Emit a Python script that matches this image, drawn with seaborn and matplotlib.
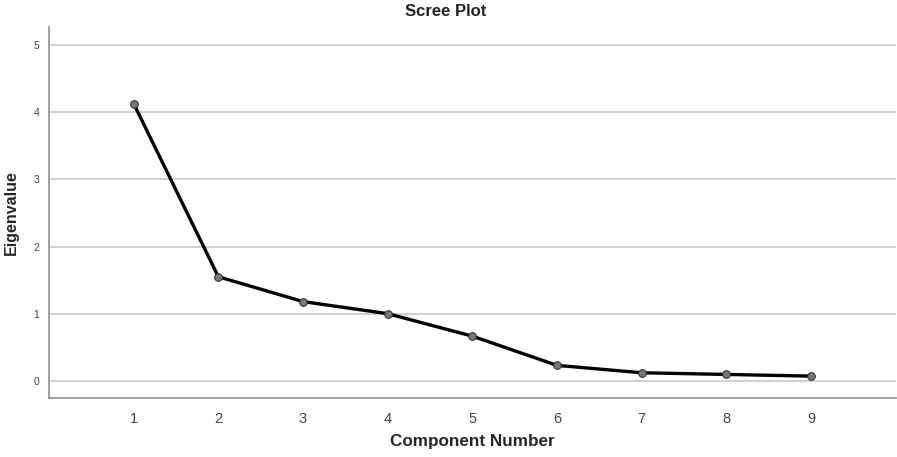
import numpy as np
import pandas as pd
import matplotlib
matplotlib.use("Agg")
import matplotlib.pyplot as plt
import seaborn as sns

components = [1, 2, 3, 4, 5, 6, 7, 8, 9]
eigenvalues = [4.13, 1.55, 1.18, 1.00, 0.665, 0.23, 0.12, 0.095, 0.07]
y_ticks = [0, 1, 2, 3, 4, 5]

df = pd.DataFrame({"Component Number": components, "Eigenvalue": eigenvalues})

sns.set_style("white")
plt.rcParams["font.family"] = ["Liberation Sans", "DejaVu Sans"]

fig = plt.figure(figsize=(8.97, 4.57), dpi=100)
ax = fig.add_axes([0.0546, 0.1285, 0.944, 0.8125])

ax.set_axisbelow(True)
for t in y_ticks:
    ax.axhline(t, color="#c8c8c8", linewidth=1.2, zorder=0)

sns.lineplot(
    data=df,
    x="Component Number",
    y="Eigenvalue",
    ax=ax,
    color="black",
    linewidth=2.4,
    marker="o",
    markersize=5.5,
    markerfacecolor="#777777",
    markeredgecolor="#333333",
    markeredgewidth=0.8,
    zorder=3,
)

ax.set_xlim(0, 10)
ax.set_ylim(-0.26, 5.27)
ax.set_xticks(components)
ax.set_yticks(y_ticks)
ax.tick_params(axis="x", length=0, labelsize=10.5, labelcolor="#444444", pad=10)
ax.tick_params(axis="y", length=0, labelsize=7.5, labelcolor="#444444", pad=7)

for s in ["top", "right"]:
    ax.spines[s].set_visible(False)
for s in ["left", "bottom"]:
    ax.spines[s].set_color("#999999")
    ax.spines[s].set_linewidth(1.3)

ax.set_xlabel("Component Number", fontsize=12.3, fontweight="bold")
ax.xaxis.set_label_coords(0.5, -0.095)
ax.set_ylabel("Eigenvalue", fontsize=11.5, fontweight="bold")
ax.yaxis.set_label_coords(-0.036, 0.5)
fig.text(446 / 897, 1 - 11 / 457, "Scree Plot", fontsize=12, fontweight="bold",
         ha="center", va="center", color="#222222")

fig.savefig("out.png", dpi=100)
